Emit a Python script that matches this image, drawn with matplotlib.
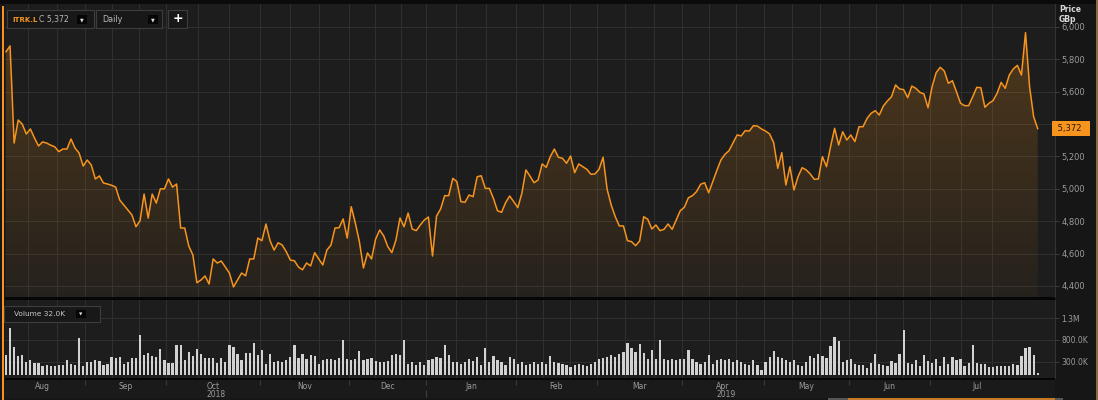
import matplotlib.pyplot as plt
import numpy as np
from matplotlib.patches import Rectangle, PathPatch
from matplotlib.transforms import blended_transform_factory

# ITRK.L daily close (GBp), early Aug 2018 -> early Aug 2019
price = [5847, 5883, 5283, 5425, 5400, 5339, 5370, 5315, 5265, 5290,
         5283, 5270, 5260, 5230, 5246, 5246, 5308, 5252, 5221, 5141,
         5178, 5147, 5061, 5080, 5036, 5030, 5022, 5011, 4931, 4900,
         4870, 4839, 4766, 4803, 4968, 4820, 4968, 4912, 5000, 5000,
         5061, 5011, 5030, 4758, 4758, 4647, 4592, 4420, 4437, 4462,
         4412, 4567, 4542, 4554, 4517, 4480, 4394, 4437, 4480, 4463,
         4567, 4567, 4696, 4680, 4783, 4680, 4622, 4667, 4653, 4612,
         4560, 4556, 4517, 4500, 4542, 4524, 4606, 4567, 4530, 4622,
         4653, 4758, 4760, 4814, 4696, 4890, 4789, 4674, 4511, 4604,
         4567, 4690, 4746, 4709, 4643, 4606, 4684, 4820, 4766, 4851,
         4752, 4742, 4777, 4808, 4826, 4585, 4832, 4876, 4958, 4958,
         5065, 5045, 4921, 4917, 4962, 4952, 5075, 5081, 5003, 5003,
         4941, 4865, 4855, 4915, 4956, 4921, 4884, 4972, 5117, 5079,
         5038, 5055, 5154, 5133, 5199, 5246, 5195, 5189, 5158, 5203,
         5100, 5154, 5137, 5121, 5090, 5092, 5121, 5195, 4997, 4900,
         4828, 4771, 4771, 4680, 4674, 4649, 4678, 4828, 4812, 4752,
         4777, 4742, 4750, 4783, 4750, 4808, 4865, 4886, 4945, 4958,
         4983, 5028, 5038, 4976, 5045, 5113, 5178, 5213, 5236, 5285,
         5333, 5327, 5360, 5357, 5390, 5388, 5370, 5357, 5339, 5285,
         5127, 5224, 5024, 5137, 4993, 5075, 5131, 5117, 5092, 5059,
         5061, 5199, 5137, 5260, 5374, 5271, 5353, 5302, 5333, 5292,
         5384, 5384, 5436, 5467, 5483, 5456, 5512, 5543, 5569, 5642,
         5617, 5613, 5563, 5635, 5621, 5596, 5586, 5501, 5631, 5718,
         5751, 5728, 5652, 5668, 5600, 5529, 5514, 5514, 5569, 5627,
         5625, 5504, 5529, 5545, 5590, 5658, 5621, 5703, 5741, 5763,
         5703, 5965, 5631, 5446, 5372]

# daily volume, thousands of shares
volume = [445, 1081, 637, 429, 445, 291, 345, 276, 268, 192,
          230, 199, 199, 215, 215, 345, 253, 215, 843, 199,
          291, 291, 345, 307, 230, 253, 399, 383, 414, 238,
          291, 383, 383, 905, 460, 506, 429, 399, 583, 330,
          261, 261, 690, 675, 345, 521, 429, 598, 483, 383,
          383, 383, 261, 383, 291, 690, 637, 483, 330, 506,
          498, 728, 445, 560, 253, 483, 291, 307, 291, 345,
          406, 675, 383, 483, 368, 445, 429, 253, 330, 368,
          353, 330, 383, 790, 368, 330, 368, 537, 330, 368,
          383, 307, 291, 291, 307, 445, 483, 460, 805, 253,
          291, 215, 291, 215, 330, 368, 406, 383, 675, 445,
          291, 291, 253, 291, 368, 307, 406, 215, 621, 291,
          429, 345, 291, 215, 406, 368, 253, 291, 215, 253,
          291, 253, 291, 253, 422, 291, 268, 253, 215, 176,
          230, 253, 215, 199, 253, 291, 368, 383, 406, 445,
          406, 483, 521, 736, 613, 521, 713, 506, 368, 560,
          368, 790, 353, 330, 353, 330, 353, 368, 560, 368,
          291, 253, 291, 445, 253, 330, 353, 330, 368, 291,
          330, 291, 253, 215, 330, 230, 100, 291, 406, 537,
          406, 383, 330, 291, 330, 230, 199, 291, 429, 383,
          483, 429, 391, 652, 866, 767, 291, 330, 353, 253,
          215, 230, 153, 276, 475, 253, 215, 199, 307, 276,
          483, 1035, 268, 253, 345, 192, 460, 307, 268, 353,
          192, 399, 253, 399, 330, 368, 199, 276, 690, 276,
          253, 253, 176, 176, 199, 199, 192, 199, 238, 230,
          429, 613, 637, 445, 32]

months = ['Aug', 'Sep', 'Oct', 'Nov', 'Dec', 'Jan', 'Feb', 'Mar', 'Apr', 'May', 'Jun', 'Jul']
month_start = [-2, 19, 39, 62, 84, 103, 125, 145, 166, 186, 207, 227, 250]  # trading-day index of the 1st
years = {'Oct': '2018', 'Apr': '2019'}
price_ticks = [4400, 4600, 4800, 5000, 5200, 5400, 5600, 5800, 6000]
vol_ticks = [300, 800, 1300]
vol_labels = ['300.0K', '800.0K', '1.3M']

ORANGE = '#f7941d'
BG = '#1d1d1d'
GRID = '#2f2f2f'
TXT = '#9c9c9c'

W, H = 1098, 400
fig = plt.figure(figsize=(W / 100, H / 100), dpi=100)
fig.patch.set_facecolor('#161616')


def box(x0, y0, x1, y1):
    return [x0 / W, 1 - y1 / H, (x1 - x0) / W, (y1 - y0) / H]


def rect(x0, y0, x1, y1, fc, ec='none', lw=0.8, z=5):
    fig.add_artist(Rectangle((x0 / W, 1 - y1 / H), (x1 - x0) / W, (y1 - y0) / H,
                             transform=fig.transFigure, facecolor=fc, edgecolor=ec,
                             linewidth=lw, zorder=z))


def label(px, py, s, z=7, **kw):
    fig.text(px / W, 1 - py / H, s, va='center', zorder=z, **kw)


n = len(price)
x = np.arange(n)
step = (1037.7 - 6) / (n - 1)
xlim = (-(6 - 5) / step, (n - 1) + (1055 - 1037.7) / step)

# month boundaries and the two extra grid lines inside each month
bounds = [m + 0.5 for m in month_start]
grid_x = []
for a, b in zip(bounds[:-1], bounds[1:]):
    grid_x += [a, a + (b - a) / 3, a + 2 * (b - a) / 3]
grid_x = [g for g in grid_x if xlim[0] < g < xlim[1]]
centers = [(a + b) / 2 for a, b in zip(bounds[:-1], bounds[1:])]

# separators / frame
rect(0, 0, W, 4, '#0b0b0b', z=1)
rect(5, 297, 1055, 300, '#060606', z=1)
rect(5, 378, 1055, 379.5, '#060606', z=1)

# ---- price panel ----
ylo, yhi = 4332, 6142
ax = fig.add_axes(box(5, 4, 1055, 297))
ax.set_facecolor(BG)
fill = ax.fill_between(x, price, ylo, facecolor='none', edgecolor='none')
clip = PathPatch(fill.get_paths()[0], transform=ax.transData, facecolor='none', edgecolor='none')
ax.add_patch(clip)
grad = np.zeros((200, 1, 4))
grad[..., :3] = (0.97, 0.58, 0.11)
grad[:, 0, 3] = np.linspace(0.04, 0.25, 200)
im = ax.imshow(grad, extent=[x[0], x[-1], ylo, yhi], origin='lower', aspect='auto', zorder=1)
im.set_clip_path(clip)
ax.plot(x, price, color=ORANGE, lw=1.1, zorder=3)
ax.set_xlim(xlim)
ax.set_ylim(ylo, yhi)
ax.set_xticks(grid_x)
ax.set_yticks(price_ticks)
ax.set_yticklabels([f'{p:,}' for p in price_ticks])
ax.grid(color=GRID, lw=0.8)
ax.set_axisbelow(True)
ax.tick_params(axis='x', length=0, labelbottom=False)
ax.tick_params(axis='y', left=False, labelleft=False, right=True, labelright=True,
               length=3, color='#3a3a3a', labelcolor=TXT, labelsize=6, pad=1.5)
for side, sp in ax.spines.items():
    sp.set_visible(side == 'right')
    sp.set_color('#333333')

# last-close tag covers the 5,400 label, as in the terminal
tr = blended_transform_factory(ax.transAxes, ax.transData)
ax.text(1.0, price[-1], f' {price[-1]:,}  ', transform=tr, ha='left', va='center',
        fontsize=6, color='#2a1800', zorder=10, clip_on=False,
        bbox=dict(boxstyle='square,pad=0.35', fc=ORANGE, ec='none'))

label(1059, 9, 'Price', color='#d8d8d8', fontsize=5.5, fontweight='bold')
label(1059, 19, 'GBp', color='#d8d8d8', fontsize=5.5, fontweight='bold')

# ---- volume panel ----
axv = fig.add_axes(box(5, 300, 1055, 378))
axv.set_facecolor(BG)
axv.bar(x, volume, width=0.55, color='#d2d2d2', zorder=2)
axv.set_xlim(xlim)
axv.set_ylim(-76, 1721)
axv.set_xticks(grid_x)
axv.set_yticks(vol_ticks)
axv.set_yticklabels(vol_labels)
axv.grid(color=GRID, lw=0.8)
axv.set_axisbelow(True)
axv.tick_params(axis='x', length=0, labelbottom=False)
axv.tick_params(axis='y', left=False, labelleft=False, right=True, labelright=True,
                length=3, color='#3a3a3a', labelcolor=TXT, labelsize=5.5, pad=1.5)
for side, sp in axv.spines.items():
    sp.set_visible(side == 'right')
    sp.set_color('#333333')

# ---- date strip ----
axd = fig.add_axes(box(5, 379.5, 1055, 398))
axd.set_xlim(xlim)
axd.set_ylim(0, 1)
axd.axis('off')
axd.add_patch(Rectangle((0, 0), 1, 1, transform=axd.transAxes, fc='#1a1a1a', ec='none', zorder=0))
axd.vlines(bounds[1:-1], 0.72, 1.0, color='#3c3c3c', lw=0.8)
axd.vlines(bounds[5], 0.0, 0.45, color='#3c3c3c', lw=0.8)
for m, c in zip(months, centers):
    axd.text(c, 0.62, m, ha='center', va='center', fontsize=5.5, color=TXT)
    if m in years:
        axd.text(c + 0.8, 0.2, years[m], ha='center', va='center', fontsize=5.5, color=TXT)

# ---- chrome: toolbar boxes ----
rect(7, 10, 94, 28, '#181818', '#3d3d3d')
label(12, 19.5, 'ITRK.L', color=ORANGE, fontsize=5, fontweight='bold')
label(39, 19.5, 'C 5,372', color='#b8b8b8', fontsize=5.6)
rect(77, 15, 87, 24, '#050505', z=6)
label(82, 19.5, '\u25bc', color='#e0e0e0', fontsize=3.5, ha='center')

rect(96, 10, 162, 28, '#181818', '#3d3d3d')
label(102, 19.5, 'Daily', color='#b8b8b8', fontsize=5.8)
rect(148, 15, 158, 24, '#050505', z=6)
label(153, 19.5, '\u25bc', color='#e0e0e0', fontsize=3.5, ha='center')

rect(168, 10, 187, 28, '#181818', '#3d3d3d')
label(177.5, 18.5, '+', color='#ffffff', fontsize=9, fontweight='bold', ha='center')

rect(4, 306, 100, 322, '#181818', '#3d3d3d')
label(14, 314, 'Volume 32.0K', color='#c8c8c8', fontsize=5.3)
rect(76, 310, 86, 318, '#050505', z=6)
label(81, 314, '\u25bc', color='#e0e0e0', fontsize=3.2, ha='center')

# range selector strip and edge highlights
rect(828, 397.5, 848, 400, '#555555')
rect(848, 397.5, 1055, 400, '#c77a26')
rect(1055, 397.5, 1063, 400, '#555555')
rect(2, 6, 4, 400, ORANGE)
rect(1095.5, 0, 1098, 400, '#8a6a44')

fig.savefig('out.png', dpi=100, facecolor=fig.get_facecolor())
